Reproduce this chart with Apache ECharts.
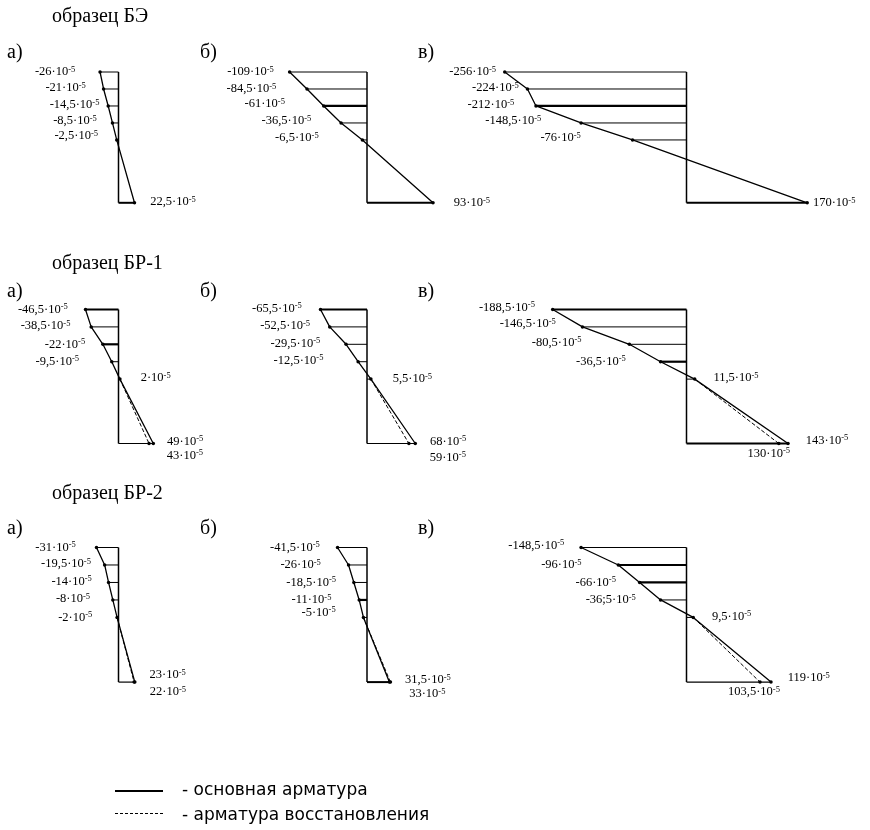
<!DOCTYPE html>
<html><head><meta charset="utf-8">
<script src="https://cdn.jsdelivr.net/npm/echarts@6/dist/echarts.min.js"></script>
<style>html,body{margin:0;padding:0;background:#fff}#c{width:870px;height:830px}</style>
</head><body><div id="c"></div>
<script>
// ================= DATA =================
const sampleTitles = ['образец БЭ', 'образец БР-1', 'образец БР-2'];
const panelLetters = ['а)', 'б)', 'в)'];
const legendLabels = ['- основная арматура', '- арматура восстановления'];
// relative depth of gauge levels (0..4) and of the bottom reinforcement (last)
const depthLevels = [0, 1, 2, 3, 4, 7.7];
// strains ×10^-5, levels 0..4 then bottom (main reinforcement)
const strainBE_a  = [-26, -21, -14.5, -8.5, -2.5, 22.5];
const strainBE_b  = [-109, -84.5, -61, -36.5, -6.5, 93];
const strainBE_c  = [-256, -224, -212, -148.5, -76, 170];
const strainBR1_a = [-46.5, -38.5, -22, -9.5, 2, 49];
const strainBR1_b = [-65.5, -52.5, -29.5, -12.5, 5.5, 68];
const strainBR1_c = [-188.5, -146.5, -80.5, -36.5, 11.5, 143];
const strainBR2_a = [-31, -19.5, -14, -8, -2, 23];
const strainBR2_b = [-41.5, -26, -18.5, -11, -5, 31.5];
const strainBR2_c = [-148.5, -96, -66, -36.5, 9.5, 119];
// bottom strain of the restoration reinforcement (a, б, в)
const restoreBR1 = [43, 59, 130];
const restoreBR2 = [22, 33, 103.5];
// text exactly as printed where it differs from the plain number
const textOverride = { '8_3': '-36;5' };

// ================= LAYOUT =================
const PX = 0.71;                                  // px per 10^-5
const colAxisX = [118.5, 367, 686.5];
const colExtent = [[-60, 60], [-120, 100], [-265, 180]];
const rowTop = [72, 309.5, 547.5];
const rowHeight = [130.8, 134, 134.6];
const titleY = [18, 265, 495];
const letterY = [55, 294, 531];
const letterX = [7, 200, 418];
const labelGap = [
  [23, 16, 7, 14, 17], [14, 29, 37, 28, 42], [7, 7, 20, 38, 50],
  [16, 19, 16, 31, 19], [17, 18, 24, 33, 20], [16, 25, 46, 33, 17],
  [19, 12, 15, 21, 23], [16, 26, 16, 26, 26], [15, 35, 22, 23, 17]];
const labelDy = [
  [0, -1, -1, -2, -4], [0, 0, -2, -2, -2], [0, -1, -1, -2, -2],
  [0, -1, 0, 0, -1], [-1, -1, -1, -1, 0], [-2, -3, -2, 0, -1],
  [0, -1, -1, -1, 0], [0, 0, 0, 0, -5], [-2, 0, 0, 0, -1]];
const mainEndLabel = [[14, -1], [19, 0], [4, 0], [12, -2], [13, -2], [16, -3], [13, -7], [14, -2], [15, -4]];
const restEndLabel = [null, null, null,
  { pos: 'right', gap: 16, dy: 12 }, { pos: 'right', gap: 19, dy: 14 }, { pos: 'bottom', gap: 1, dx: -10 },
  { pos: 'right', gap: 14, dy: 10 }, { pos: 'right', gap: 17, dy: 12 }, { pos: 'bottom', gap: 1, dx: -6 }];
const boldLevels = [[], [2], [2], [0, 2], [0], [0, 3], [], [3], [1, 2]];
const bottomWidth = [2, 2, 2, 1.2, 1.2, 2, 1.2, 2, 1.2];

const SERIF = 'Liberation Serif';
const rich = {
  m: { fontFamily: SERIF, fontSize: 12.5, lineHeight: 14, color: '#000' },
  s: { fontFamily: SERIF, fontSize: 8.5, lineHeight: 8, verticalAlign: 'top', color: '#000' }
};
function fmt(v) { return String(v).replace('.', ','); }
function strainText(v, key) { return '{m|' + (textOverride[key] || fmt(v)) + '·10}{s|-5}'; }

const mains = [strainBE_a, strainBE_b, strainBE_c, strainBR1_a, strainBR1_b, strainBR1_c, strainBR2_a, strainBR2_b, strainBR2_c];
const restores = [null, null, null, restoreBR1[0], restoreBR1[1], restoreBR1[2], restoreBR2[0], restoreBR2[1], restoreBR2[2]];

const grids = [], xAxes = [], yAxes = [], series = [];
const bottom = depthLevels[depthLevels.length - 1];

function hLineRender(params, api) {
  const p0 = api.coord([0, api.value(1)]);
  const p1 = api.coord([api.value(0), api.value(1)]);
  return { type: 'line', shape: { x1: p0[0], y1: p0[1], x2: p1[0], y2: p1[1] },
           style: { stroke: '#000', lineWidth: api.value(2) } };
}

mains.forEach((main, i) => {
  const row = Math.floor(i / 3), col = i % 3;
  const ext = colExtent[col];
  grids.push({ left: colAxisX[col] + ext[0] * PX, width: (ext[1] - ext[0]) * PX, top: rowTop[row], height: rowHeight[row] });
  xAxes.push({ type: 'value', gridIndex: i, min: ext[0], max: ext[1], show: false });
  yAxes.push({ type: 'value', gridIndex: i, min: 0, max: bottom, inverse: true, show: false });

  // vertical reference axis
  series.push({ type: 'line', xAxisIndex: i, yAxisIndex: i, data: [[0, 0], [0, bottom]], symbol: 'none',
    lineStyle: { color: '#000', width: 1.5 }, silent: true, clip: false });
  // horizontal hatching lines at gauge levels
  series.push({ type: 'custom', xAxisIndex: i, yAxisIndex: i, renderItem: hLineRender, clip: false,
    data: main.slice(0, 5).map((v, k) => [v, depthLevels[k], boldLevels[i].includes(k) ? 2.2 : 1]) });
  // bottom bar
  series.push({ type: 'custom', xAxisIndex: i, yAxisIndex: i, renderItem: hLineRender, clip: false,
    data: [[main[5], bottom, bottomWidth[i]]] });
  // main reinforcement profile
  const data = main.map((v, k) => {
    const d = { value: [v, depthLevels[k]] };
    if (k < 5) {
      d.label = { show: true, position: v < 0 ? 'left' : 'right', distance: labelGap[i][k],
        offset: [0, labelDy[i][k]], formatter: strainText(v, i + '_' + k), rich: rich };
    } else {
      d.label = { show: true, position: 'right', distance: mainEndLabel[i][0], offset: [0, mainEndLabel[i][1]],
        formatter: strainText(v, i + '_' + k), rich: rich };
    }
    return d;
  });
  series.push({ type: 'line', xAxisIndex: i, yAxisIndex: i, data: data, symbol: 'circle', symbolSize: 3.5,
    itemStyle: { color: '#000' }, lineStyle: { color: '#000', width: 1.3 }, clip: false, z: 5 });
  // restoration reinforcement (dashed)
  if (restores[i] !== null) {
    const r = restores[i], L = restEndLabel[i];
    const lab = { show: true, position: L.pos, distance: L.gap, offset: [L.dx || 0, L.dy || 0],
      formatter: strainText(r, i + '_r'), rich: rich };
    series.push({ type: 'line', xAxisIndex: i, yAxisIndex: i, clip: false, z: 4,
      data: [{ value: [main[4], depthLevels[4]], symbol: 'none' }, { value: [r, bottom], label: lab }],
      symbol: 'circle', symbolSize: 3.5, itemStyle: { color: '#000' },
      lineStyle: { color: '#000', width: 1, type: [4, 2] } });
  }
});

const graphic = [];
sampleTitles.forEach((t, r) => {
  graphic.push({ type: 'text', left: 52, top: titleY[r] - 11,
    style: { text: t, font: '20px "Liberation Serif"', fill: '#000' } });
  panelLetters.forEach((p, c) => {
    graphic.push({ type: 'text', left: letterX[c], top: letterY[r] - 12,
      style: { text: p, font: '20px "Liberation Serif"', fill: '#000' } });
  });
});
// legend
graphic.push({ type: 'line', shape: { x1: 115, y1: 791, x2: 163, y2: 791 }, style: { stroke: '#000', lineWidth: 2 } });
graphic.push({ type: 'line', shape: { x1: 115, y1: 813.5, x2: 163, y2: 813.5 }, style: { stroke: '#000', lineWidth: 1, lineDash: [3, 2] } });
graphic.push({ type: 'text', left: 182, top: 782, style: { text: legendLabels[0], font: '17px "DejaVu Sans"', fill: '#000' } });
graphic.push({ type: 'text', left: 182, top: 807, style: { text: legendLabels[1], font: '17px "DejaVu Sans"', fill: '#000' } });

const chart = echarts.init(document.getElementById('c'), null, { renderer: 'canvas' });
chart.setOption({ animation: false, backgroundColor: '#fff', grid: grids, xAxis: xAxes, yAxis: yAxes, series: series, graphic: graphic });
</script></body></html>
